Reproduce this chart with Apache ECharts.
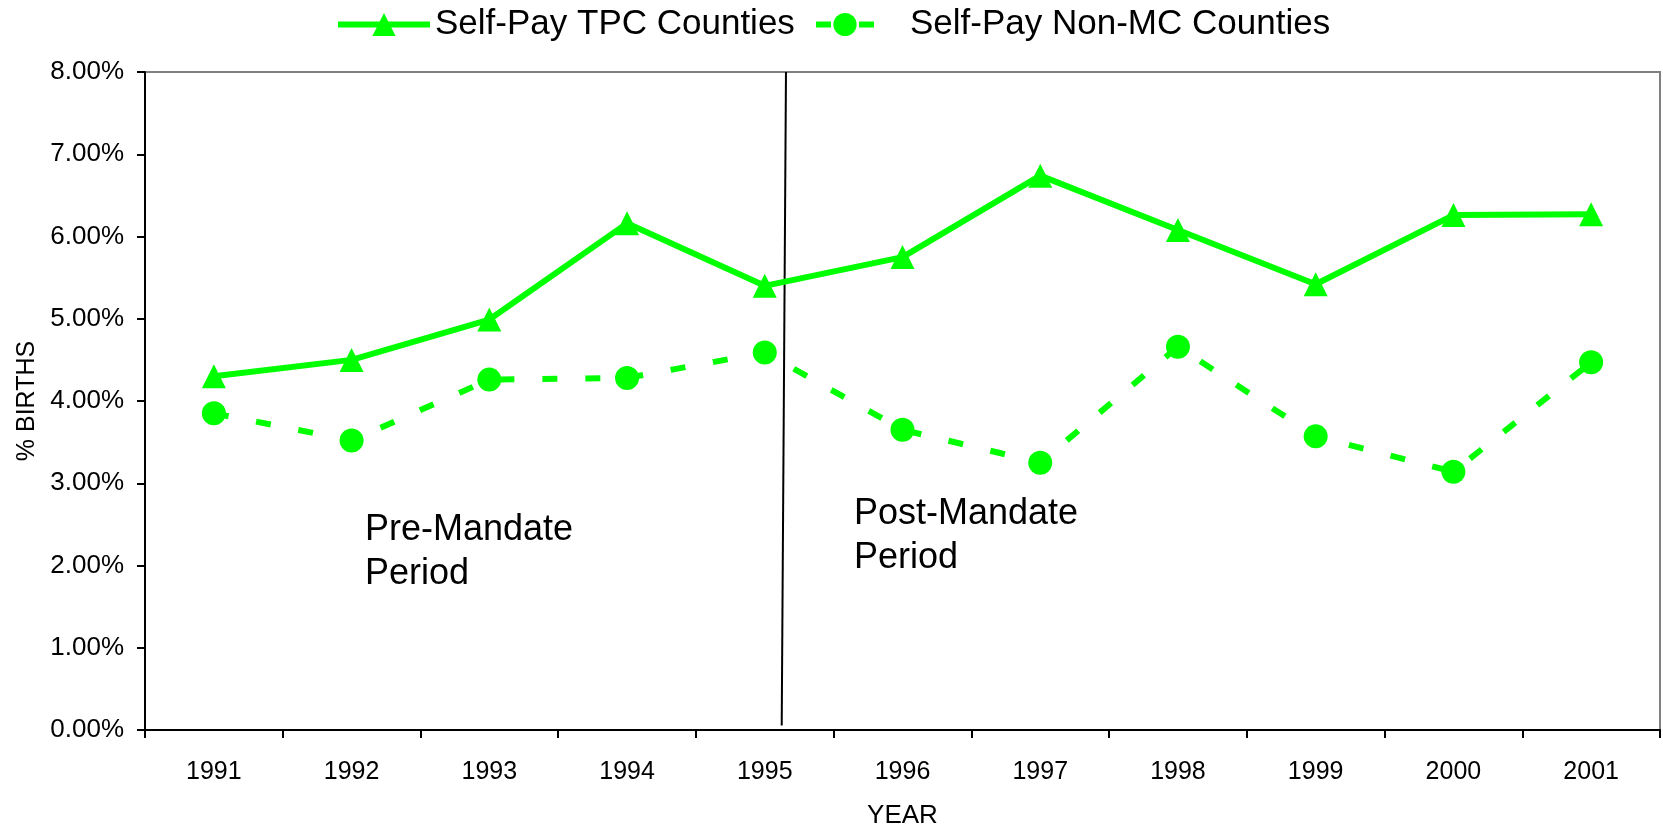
<!DOCTYPE html>
<html>
<head>
<meta charset="utf-8">
<script src="https://cdn.jsdelivr.net/npm/echarts@6/dist/echarts.min.js"></script>
<style>
html,body{margin:0;padding:0;background:#fff;}
#chart{width:1663px;height:827px;}
</style>
</head>
<body>
<div id="chart"></div>
<script>
var years=['1991','1992','1993','1994','1995','1996','1997','1998','1999','2000','2001'];
var tpcValues=[4.30,4.50,4.99,6.16,5.40,5.75,6.74,6.08,5.42,6.26,6.27];
var nonMcValues=[3.85,3.52,4.26,4.28,4.59,3.65,3.25,4.66,3.57,3.14,4.47];
// mandate divider, in category-span units (0..11) and percent
var mandateLine=[[4.654,8],[4.623,0.055]];

var font='Liberation Sans, Arial, sans-serif';
var green='#00ff00';

var chart=echarts.init(document.getElementById('chart'));
var option={
	animation:false,
	textStyle:{fontFamily:font,color:'#000'},
	legend:[
		{
			data:['Self-Pay TPC Counties'],
			left:335,top:7,padding:0,
			itemWidth:92,itemHeight:29,
			lineStyle:{width:6},
			textStyle:{fontSize:35,color:'#000',fontFamily:font}
		},
		{
			data:['Self-Pay Non-MC Counties'],
			left:813,top:7,padding:0,
			itemWidth:58,itemHeight:29,
			lineStyle:{width:6,type:[15,28]},
			textStyle:{fontSize:35,color:'#000',fontFamily:font,padding:[0,0,0,31]}
		}
	],
	grid:{
		left:145,right:3,top:72,bottom:97,
		outerBoundsMode:'none',
		show:true,borderColor:'#808080',borderWidth:2
	},
	xAxis:[
		{
			type:'category',
			data:years,
			name:'YEAR',
			nameLocation:'middle',
			nameGap:73,
			nameTextStyle:{fontSize:26,color:'#000',fontFamily:font},
			axisLine:{lineStyle:{color:'#000',width:2}},
			axisTick:{show:true,length:8,lineStyle:{color:'#000',width:2}},
			axisLabel:{fontSize:25,color:'#000',margin:30,fontFamily:font},
			splitLine:{show:false}
		},
		{
			type:'value',min:0,max:11,show:false
		}
	],
	yAxis:{
		type:'value',
		min:0,max:8,interval:1,
		name:'% BIRTHS',
		nameLocation:'middle',
		nameGap:104,
		nameTextStyle:{fontSize:25,color:'#000',fontFamily:font},
		axisLine:{show:true,lineStyle:{color:'#000',width:2}},
		axisTick:{show:true,length:8,lineStyle:{color:'#000',width:2}},
		axisLabel:{fontSize:26,color:'#000',margin:21,fontFamily:font,
			formatter:function(v){return v.toFixed(2)+'%';}},
		splitLine:{show:false}
	},
	series:[
		{
			name:'Self-Pay TPC Counties',
			type:'line',
			data:tpcValues,
			symbol:'triangle',
			symbolSize:24,
			lineStyle:{color:green,width:6},
			itemStyle:{color:green},
			z:3
		},
		{
			name:'Self-Pay Non-MC Counties',
			type:'line',
			data:nonMcValues,
			symbol:'circle',
			symbolSize:24,
			lineStyle:{color:green,width:6,type:[15,28]},
			itemStyle:{color:green},
			z:3
		},
		{
			name:'mandate',
			type:'line',
			xAxisIndex:1,
			data:mandateLine,
			symbol:'none',
			silent:true,
			lineStyle:{color:'#000',width:2},
			z:2
		}
	],
	graphic:[
		{type:'text',left:365,top:508,silent:true,
			style:{text:'Pre-Mandate\nPeriod',fontSize:36,lineHeight:44,fill:'#000',fontFamily:font}},
		{type:'text',left:854,top:492,silent:true,
			style:{text:'Post-Mandate\nPeriod',fontSize:36,lineHeight:44,fill:'#000',fontFamily:font}}
	]
};
chart.setOption(option);
</script>
</body>
</html>
